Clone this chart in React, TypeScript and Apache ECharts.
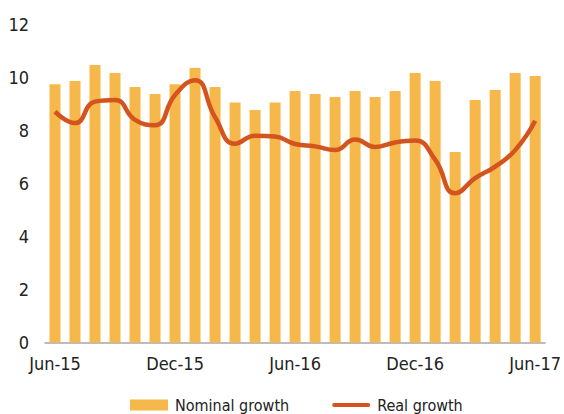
import React, { useEffect, useRef } from "react";
import * as echarts from "echarts";

const categories = [
  "Jun-15", "Jul-15", "Aug-15", "Sep-15", "Oct-15", "Nov-15", "Dec-15",
  "Jan-16", "Feb-16", "Mar-16", "Apr-16", "May-16", "Jun-16",
  "Jul-16", "Aug-16", "Sep-16", "Oct-16", "Nov-16", "Dec-16",
  "Jan-17", "Feb-17", "Mar-17", "Apr-17", "May-17", "Jun-17",
];

const nominalGrowth = [
  9.75, 9.87, 10.47, 10.17, 9.64, 9.38, 9.75, 10.36, 9.64, 9.06, 8.77, 9.06,
  9.49, 9.38, 9.26, 9.49, 9.26, 9.49, 10.17, 9.87, 7.19, 9.15, 9.53, 10.17, 10.06,
];

const realGrowth = [
  8.71, 8.28, 9.09, 9.15, 8.4, 8.2, 9.34, 9.9, 8.5, 7.5, 7.8, 7.77,
  7.49, 7.4, 7.26, 7.66, 7.38, 7.55, 7.62, 6.9, 5.63, 6.2, 6.64, 7.26, 8.37,
];

const yTicks = { min: 0, max: 12, interval: 2 };

const FONT = "'DejaVu Sans Condensed', 'Liberation Sans Narrow', 'Arial Narrow', sans-serif";

export default function App() {
  const ref = useRef<HTMLDivElement>(null);
  useEffect(() => {
    if (!ref.current) return;
    const chart = echarts.init(ref.current, undefined, { renderer: "svg" });
    chart.setOption({
      animation: false,
      grid: { left: 45, right: 16, top: 24.5, bottom: 71.5, containLabel: false },
      legend: {
        data: [
          { name: "Nominal growth", icon: "rect" },
          { name: "Real growth", icon: "path://M2,0 L36,0 A2,2 0 0 1 36,4 L2,4 A2,2 0 0 1 2,0 Z" },
        ],
        left: 130,
        top: 397,
        padding: 0,
        itemWidth: 38,
        itemHeight: 11,
        itemGap: 43,
        textStyle: { fontFamily: FONT, fontSize: 16, color: "#222", padding: [0, 0, 0, 2] },
      },
      xAxis: {
        type: "category",
        data: categories,
        boundaryGap: true,
        axisLine: { show: true, lineStyle: { color: "#a6a6a6", width: 1.5 } },
        axisTick: { show: false },
        axisLabel: {
          interval: 5,
          margin: 12,
          fontFamily: FONT,
          fontSize: 18,
          color: "#222",
        },
      },
      yAxis: {
        type: "value",
        min: yTicks.min,
        max: yTicks.max,
        interval: yTicks.interval,
        splitLine: { show: false },
        axisLine: { show: false },
        axisTick: { show: false },
        axisLabel: { margin: 16, fontFamily: FONT, fontSize: 18, color: "#222" },
      },
      series: [
        {
          name: "Nominal growth",
          type: "bar",
          data: nominalGrowth,
          barWidth: "55%",
          itemStyle: { color: "#f7b84b" },
        },
        {
          name: "Real growth",
          type: "line",
          data: realGrowth,
          smooth: 0.5,
          symbol: "none",
          lineStyle: { color: "#d4541f", width: 4.5 },
          itemStyle: { color: "#d4541f" },
          z: 5,
        },
      ],
    });
    return () => chart.dispose();
  }, []);
  return <div ref={ref} style={{ width: 564, height: 414, position: "absolute", left: 0, top: 0 }} />;
}
